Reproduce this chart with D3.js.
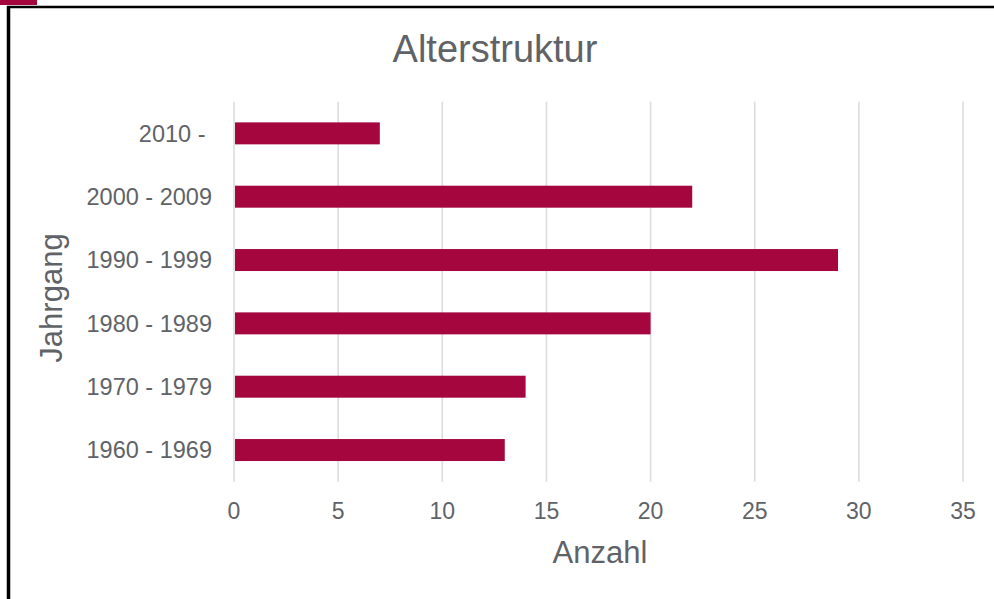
<!DOCTYPE html>
<html>
<head>
    <title>Alterstruktur</title>
    <script src="https://d3js.org/d3.v7.min.js"></script>
    <style>
        body, html {
            margin: 0;
            padding: 0;
            width: 100%;
            height: 100%;
            background: #fff;
        }
        svg {
            display: block;
            font-family: 'Liberation Sans', Arial, Helvetica, sans-serif;
        }
        .label {
            fill: #5f6368;
        }
    </style>
</head>
<body>
    <script>
        // chart data
        const categories = ["2010 - ", "2000 - 2009", "1990 - 1999", "1980 - 1989", "1970 - 1979", "1960 - 1969"];
        const values = [7, 22, 29, 20, 14, 13];
        const xTicks = [0, 5, 10, 15, 20, 25, 30, 35];

        const width = 994;
        const height = 599;
        const barColor = "#a5063d";

        const svg = d3.select("body").append("svg")
            .attr("width", width)
            .attr("height", height)
            .attr("viewBox", [0, 0, width, height]);

        // frame: small red tab, top line and left line
        svg.append("rect")
            .attr("x", 0).attr("y", 0)
            .attr("width", 37).attr("height", 5)
            .attr("fill", barColor);
        svg.append("line")
            .attr("x1", 7).attr("x2", width)
            .attr("y1", 7).attr("y2", 7)
            .attr("stroke", "#000").attr("stroke-width", 2.5);
        svg.append("line")
            .attr("x1", 8.5).attr("x2", 8.5)
            .attr("y1", 6).attr("y2", height)
            .attr("stroke", "#000").attr("stroke-width", 3.5);

        const x = d3.scaleLinear()
            .domain([0, 35])
            .range([234, 963]);

        const y = d3.scaleBand()
            .domain(categories)
            .range([101.7, 481.7])
            .paddingInner(0.653)
            .paddingOuter(0.3265);

        // vertical gridlines
        svg.append("g")
            .selectAll("line")
            .data(xTicks)
            .join("line")
                .attr("x1", d => x(d))
                .attr("x2", d => x(d))
                .attr("y1", 101.7)
                .attr("y2", 481.7)
                .attr("stroke", "#dcdcdc")
                .attr("stroke-width", 1.6);

        // bars
        svg.append("g")
            .selectAll("rect")
            .data(values)
            .join("rect")
                .attr("x", x(0) + 1)
                .attr("y", (d, i) => y(categories[i]))
                .attr("width", d => x(d) - x(0) - 1)
                .attr("height", y.bandwidth())
                .attr("fill", barColor);

        // x tick labels
        svg.append("g")
            .selectAll("text")
            .data(xTicks)
            .join("text")
                .attr("class", "label")
                .attr("x", d => x(d))
                .attr("y", 519)
                .attr("text-anchor", "middle")
                .style("font-size", "23px")
                .text(d => d);

        // category labels
        svg.append("g")
            .selectAll("text")
            .data(categories)
            .join("text")
                .attr("class", "label")
                .attr("x", 212)
                .attr("y", d => y(d) + y.bandwidth() / 2)
                .attr("dy", "0.36em")
                .attr("text-anchor", "end")
                .attr("xml:space", "preserve")
                .style("white-space", "pre")
                .style("font-size", "23.5px")
                .text(d => d);

        // title
        svg.append("text")
            .attr("class", "label")
            .attr("x", 495)
            .attr("y", 62)
            .attr("text-anchor", "middle")
            .style("font-size", "38px")
            .text("Alterstruktur");

        // axis titles
        svg.append("text")
            .attr("class", "label")
            .attr("x", 600)
            .attr("y", 563)
            .attr("text-anchor", "middle")
            .style("font-size", "31px")
            .text("Anzahl");

        svg.append("text")
            .attr("class", "label")
            .attr("transform", "translate(62,298) rotate(-90)")
            .attr("text-anchor", "middle")
            .style("font-size", "31px")
            .text("Jahrgang");
    </script>
</body>
</html>
